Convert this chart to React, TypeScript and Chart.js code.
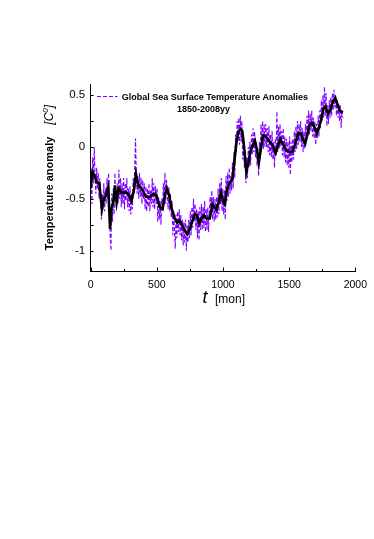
import React, { useEffect, useRef } from 'react';
import { Chart, registerables } from 'chart.js';

Chart.register(...registerables);

const FONT = '"Liberation Sans", Arial, Helvetica, sans-serif';

// Smoothed (black) curve: month index and anomaly
const smoothMonths = [0,13,28,45,65,85,100,115,133,146,156,171,183,196,211,234,271,291,309,329,342,359,384,417,447,477,497,523,543,560,575,593,613,636,653,673,693,714,729,749,769,786,804,819,837,857,874,900,920,935,950,970,985,1000,1015,1030,1050,1070,1085,1100,1116,1133,1146,1161,1176,1191,1206,1226,1241,1256,1271,1286,1302,1322,1347,1372,1397,1412,1432,1452,1477,1503,1528,1553,1568,1588,1608,1621,1636,1653,1673,1691,1709,1724,1741,1759,1774,1794,1814,1834,1849,1867,1884,1905];
const smoothValues = [-0.40,-0.24,-0.27,-0.34,-0.35,-0.60,-0.50,-0.47,-0.39,-0.79,-0.60,-0.53,-0.37,-0.53,-0.40,-0.44,-0.44,-0.47,-0.52,-0.40,-0.26,-0.37,-0.40,-0.48,-0.48,-0.45,-0.47,-0.58,-0.60,-0.47,-0.40,-0.47,-0.60,-0.69,-0.73,-0.71,-0.76,-0.81,-0.84,-0.79,-0.71,-0.65,-0.66,-0.74,-0.69,-0.66,-0.69,-0.69,-0.55,-0.58,-0.60,-0.52,-0.44,-0.52,-0.55,-0.40,-0.35,-0.31,-0.15,0.03,0.15,0.17,0.15,-0.02,-0.24,-0.16,-0.05,0.02,0.06,-0.02,-0.15,-0.02,0.11,0.10,0.06,0.02,-0.06,0.00,0.08,0.03,-0.03,-0.05,-0.04,0.06,0.13,0.13,0.06,0.03,0.11,0.21,0.23,0.19,0.13,0.18,0.26,0.37,0.39,0.32,0.37,0.45,0.47,0.40,0.35,0.33];

// Raw sea surface temperature anomalies (purple), sampled every 6 months from month 3
const SST_START = 3;
const SST_STEP = 6;
const sstValues = [
  -0.30,-0.55,-0.10,-0.35,0.00,-0.30,-0.45,-0.20,-0.40,-0.25,-0.50,-0.30,-0.45,-0.70,-0.45,-0.60,-0.35,-0.62,-0.40,-0.55,
  -0.30,-0.50,-0.25,-0.62,-0.85,-1.00,-0.45,-0.72,-0.40,-0.65,-0.25,-0.50,-0.60,-0.35,-0.55,-0.22,-0.50,-0.30,-0.58,-0.35,
  -0.55,-0.30,-0.60,-0.35,-0.52,-0.30,-0.58,-0.40,-0.62,-0.38,-0.65,-0.45,-0.60,-0.30,-0.45,-0.20,0.08,-0.30,-0.45,-0.28,
  -0.50,-0.25,-0.48,-0.30,-0.55,-0.32,-0.50,-0.35,-0.60,-0.38,-0.62,-0.40,-0.58,-0.35,-0.62,-0.42,-0.55,-0.30,-0.58,-0.35,
  -0.60,-0.38,-0.55,-0.40,-0.72,-0.48,-0.70,-0.52,-0.75,-0.50,-0.60,-0.35,-0.50,-0.25,-0.55,-0.32,-0.45,-0.60,-0.38,-0.62,
  -0.45,-0.68,-0.52,-0.85,-0.62,-0.80,-0.98,-0.65,-0.88,-0.62,-0.82,-0.60,-0.85,-0.65,-0.90,-0.70,-0.95,-0.72,-0.92,-0.70,
  -1.00,-0.75,-0.92,-0.70,-0.88,-0.62,-0.85,-0.58,-0.78,-0.50,-0.72,-0.55,-0.80,-0.60,-0.88,-0.62,-0.90,-0.58,-0.80,-0.55,
  -0.80,-0.58,-0.78,-0.52,-0.82,-0.60,-0.80,-0.58,-0.82,-0.62,-0.48,-0.65,-0.42,-0.70,-0.48,-0.72,-0.50,-0.70,-0.48,-0.68,
  -0.40,-0.65,-0.35,-0.55,-0.30,-0.62,-0.40,-0.65,-0.42,-0.70,-0.28,-0.52,-0.25,-0.48,-0.20,-0.45,-0.28,-0.42,-0.15,-0.40,
  -0.05,-0.30,0.12,-0.05,0.25,0.05,0.28,0.02,0.30,0.05,0.25,-0.12,0.05,-0.20,-0.05,-0.35,-0.10,-0.30,0.00,-0.20,
  0.05,-0.18,0.12,-0.08,0.18,-0.05,0.15,-0.10,0.05,-0.18,-0.05,-0.28,0.05,-0.10,0.22,0.00,0.25,-0.02,0.22,0.00,
  0.22,0.00,0.18,-0.05,0.20,-0.08,0.12,-0.10,0.15,-0.12,0.05,-0.20,0.08,-0.08,0.34,-0.05,0.20,-0.02,0.22,0.00,
  0.15,-0.08,0.18,-0.10,0.10,-0.15,0.08,-0.18,0.05,-0.20,0.10,-0.27,0.05,-0.15,0.08,-0.12,0.15,-0.05,0.20,-0.02,
  0.25,0.02,0.22,0.05,0.25,0.00,0.18,-0.05,0.15,-0.02,0.22,0.05,0.30,0.10,0.35,0.12,0.32,0.15,0.35,0.10,
  0.28,0.08,0.25,0.02,0.22,0.08,0.30,0.10,0.35,0.18,0.45,0.25,0.50,0.28,0.58,0.30,0.52,0.20,0.40,0.22,
  0.45,0.28,0.48,0.30,0.52,0.35,0.55,0.38,0.50,0.30,0.45,0.28,0.42,0.25,0.40,0.18,0.35,0.28
];

const xTickValues = [0, 500, 1000, 1500, 2000];
const xMinorTicks = [0, 250, 500, 750, 1000, 1250, 1500, 1750, 2000];
const yTickValues = [-1, -0.5, 0, 0.5];
const yMinorTicks = [-1, -0.75, -0.5, -0.25, 0, 0.25, 0.5];

const legendLine1 = 'Global Sea Surface Temperature Anomalies';
const legendLine2 = '1850-2008yy';
const yTitleMain = 'Temperature anomaly';
const xTitleVar = 't';
const xTitleUnit = '[mon]';

const PURPLE = '#7f00ff';

export default function App() {
  const ref = useRef<HTMLCanvasElement>(null);

  useEffect(() => {
    const decor = {
      id: 'decor',
      afterDraw(chart: any) {
        const ctx = chart.ctx as CanvasRenderingContext2D;
        const xs = chart.scales.x;
        const ys = chart.scales.y;
        const area = chart.chartArea;
        ctx.save();
        // inward tick marks
        ctx.strokeStyle = '#000';
        ctx.lineWidth = 1;
        ctx.beginPath();
        xMinorTicks.forEach((v) => {
          const px = Math.round(xs.getPixelForValue(v)) + 0.5;
          const len = v % 500 === 0 ? 4 : 2.5;
          ctx.moveTo(px, area.bottom);
          ctx.lineTo(px, area.bottom - len);
        });
        yMinorTicks.forEach((v) => {
          const py = Math.round(ys.getPixelForValue(v)) + 0.5;
          ctx.moveTo(area.left, py);
          ctx.lineTo(area.left + 3, py);
        });
        ctx.stroke();

        // legend
        ctx.strokeStyle = PURPLE;
        ctx.lineWidth = 1.2;
        ctx.setLineDash([4, 2]);
        ctx.beginPath();
        ctx.moveTo(97, 96.5);
        ctx.lineTo(117.5, 96.5);
        ctx.stroke();
        ctx.setLineDash([]);
        ctx.fillStyle = '#000';
        ctx.font = `bold 9px ${FONT}`;
        ctx.textBaseline = 'alphabetic';
        ctx.textAlign = 'left';
        ctx.fillText(legendLine1, 121.7, 100);
        ctx.textAlign = 'center';
        ctx.fillText(legendLine2, 203.5, 111.5);

        // x title
        ctx.textAlign = 'left';
        ctx.font = `italic 18px ${FONT}`;
        ctx.fillText(xTitleVar, 202.5, 303.3);
        ctx.font = `12px ${FONT}`;
        ctx.fillText(xTitleUnit, 215, 303);

        // y title (rotated)
        ctx.translate(53, 177.5);
        ctx.rotate(-Math.PI / 2);
        ctx.font = `bold 11px ${FONT}`;
        const w1 = ctx.measureText(yTitleMain).width;
        ctx.font = `italic 12px ${FONT}`;
        const wb1 = ctx.measureText('[').width;
        const wc = ctx.measureText('C').width;
        ctx.font = `italic 8px ${FONT}`;
        const w0 = ctx.measureText('0').width;
        ctx.font = `italic 12px ${FONT}`;
        const wb2 = ctx.measureText(']').width;
        const gap = 12;
        const total = w1 + gap + wb1 + wc + w0 + wb2;
        let cx = -total / 2;
        ctx.font = `bold 11px ${FONT}`;
        ctx.fillText(yTitleMain, cx, 0);
        cx += w1 + gap;
        ctx.font = `italic 12px ${FONT}`;
        ctx.fillText('[', cx, 0);
        cx += wb1;
        ctx.fillText('C', cx, 0);
        cx += wc;
        ctx.font = `italic 8px ${FONT}`;
        ctx.fillText('0', cx, -5);
        cx += w0;
        ctx.font = `italic 12px ${FONT}`;
        ctx.fillText(']', cx, 0);
        ctx.restore();
      },
    };

    const chart = new Chart(ref.current as HTMLCanvasElement, {
      type: 'line',
      data: {
        datasets: [
          {
            label: 'smoothed',
            data: smoothMonths.map((x, i) => ({ x, y: smoothValues[i] })),
            borderColor: '#000',
            borderWidth: 2.6,
            pointRadius: 0,
            tension: 0,
            fill: false,
          },
          {
            label: legendLine1,
            data: sstValues.map((y, i) => ({ x: SST_START + SST_STEP * i, y })),
            borderColor: PURPLE,
            borderWidth: 1.1,
            borderDash: [4, 2],
            pointRadius: 0,
            tension: 0,
            fill: false,
          },
        ],
      },
      options: {
        animation: false,
        responsive: false,
        maintainAspectRatio: false,
        layout: { padding: { left: 0, right: 18, top: 84.6, bottom: 0 } },
        plugins: { legend: { display: false }, tooltip: { enabled: false } },
        scales: {
          x: {
            type: 'linear',
            min: 0,
            max: 2000,
            afterBuildTicks: (s: any) => {
              s.ticks = xTickValues.map((v) => ({ value: v }));
            },
            afterFit: (s: any) => {
              s.height = 539 - 271.5;
            },
            ticks: {
              callback: (v: any) => String(v),
              font: { family: FONT, size: 10.5 },
              color: '#000',
              padding: 7,
              maxRotation: 0,
              autoSkip: false,
            },
            grid: { display: false, drawTicks: false },
            border: { display: true, color: '#000', width: 1 },
          },
          y: {
            type: 'linear',
            min: -1.2,
            max: 0.6,
            afterBuildTicks: (s: any) => {
              s.ticks = yTickValues.map((v) => ({ value: v }));
            },
            afterFit: (s: any) => {
              s.width = 90.7;
            },
            ticks: {
              callback: (v: any) => String(v),
              font: { family: FONT, size: 11.5 },
              color: '#000',
              padding: 5.5,
              autoSkip: false,
            },
            grid: { display: false, drawTicks: false },
            border: { display: true, color: '#000', width: 1 },
          },
        },
      },
      plugins: [decor],
    } as any);

    return () => chart.destroy();
  }, []);

  return (
    <div style={{ position: 'absolute', left: 0, top: 0, width: 374, height: 539 }}>
      <canvas ref={ref} width={374} height={539} />
    </div>
  );
}
